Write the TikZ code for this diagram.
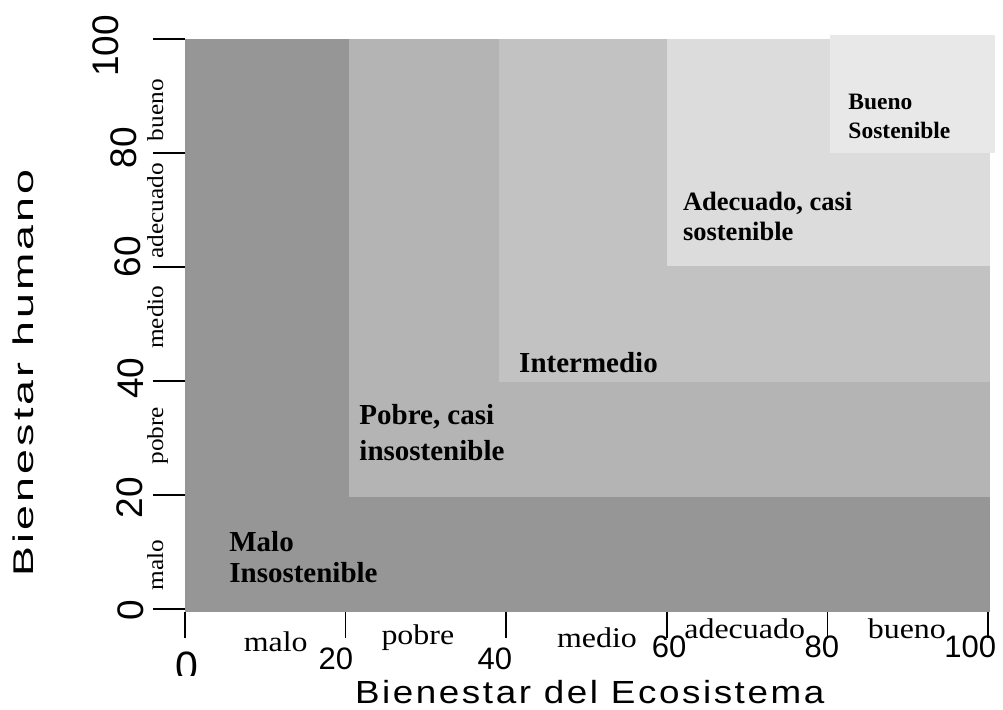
\documentclass[tikz,border=0pt]{standalone}
\usepackage{fontspec}
\setmainfont{Liberation Serif}
\setsansfont{Liberation Sans}
\newfontfamily\titlefont[LetterSpace=7]{Liberation Sans}
\newcommand\widen[2]{\scalebox{#1}[1]{#2}}

\definecolor{malogray}{RGB}{150,150,150}
\definecolor{pobregray}{RGB}{180,180,180}
\definecolor{medgray}{RGB}{194,194,194}
\definecolor{adegray}{RGB}{220,220,220}
\definecolor{buenogray}{RGB}{232,232,232}

\begin{document}
\begin{tikzpicture}[x=8.03pt,y=5.7pt,
    region/.style={font=\bfseries\fontsize{29}{31}\selectfont, align=left, anchor=base west, inner sep=0},
    ynum/.style={font=\sffamily\fontsize{37}{37}\selectfont, rotate=90, anchor=base, inner sep=0},
    xnum/.style={font=\sffamily\fontsize{31}{31}\selectfont, anchor=base, inner sep=0},
    ycat/.style={font=\fontsize{23}{23}\selectfont, rotate=90, anchor=base, inner sep=0},
    xcat/.style={font=\fontsize{28.5}{28.5}\selectfont, anchor=base, inner sep=0},
    tick/.style={line width=1.6pt}]
        \useasboundingbox (-23.04,-17.72) rectangle (101.87,106.84);
        % nested zones
        \fill[malogray] (0,-0.5) rectangle (100.25,100);
        \fill[pobregray] (20.4,19.65) rectangle (100.25,100);
        \fill[medgray] (39.1,39.8) rectangle (100.25,100);
        \fill[adegray] (60,60.2) rectangle (100.25,100);
        \fill[buenogray] (80.3,80) rectangle (100.9,100.7);
        \node (malo) at (5.5,4.56) [region] {Malo\\Insostenible};
        \node (pobre) at (21.7,26) [region] {Pobre, casi\\[5pt]insostenible};
        \node (inter) at (41.6,41.4) [region] {Intermedio};
        \node (adec) at (62,64.7) [region, font=\bfseries\fontsize{26.5}{30}\selectfont] {Adecuado, casi\\sostenible};
        \node (bueno) at (82.6,82.6) [region, font=\bfseries\fontsize{23.5}{29}\selectfont] {Bueno\\Sostenible};
        % ticks
        \foreach \v in {0,20,...,100} {
            \draw[tick] (-4,\v) -- (0,\v);
            \draw[tick] (\v,-0.5) -- (\v,-5.1);
        }
        % y axis labels
        \node (y100) at (-8.3,98.8) [ynum] {100};
        \node (y80) at (-6,80.9) [ynum] {80};
        \node (y60) at (-5.6,61.8) [ynum] {60};
        \node (y40) at (-5.2,40.5) [ynum] {40};
        \node (y20) at (-5.35,19.5) [ynum] {20};
        \node (y0) at (-5.2,-0.2) [ynum] {0};
        \node (ybueno) at (-2.74,87.5) [ycat] {\widen{1.1}{bueno}};
        \node (yadec) at (-2.74,69.8) [ycat] {\widen{1.1}{adecuado}};
        \node (ymedio) at (-2.74,51.2) [ycat] {\widen{1.1}{medio}};
        \node (ypobre) at (-2.74,30.4) [ycat] {\widen{1.1}{pobre}};
        \node (ymalo) at (-2.74,7.7) [ycat] {\widen{1.1}{malo}};
        % x axis labels
        \begin{scope}
            \clip (-5,-11.6) rectangle (5,-5);
            \node (x0) at (0.2,-12.6) [xnum, font=\sffamily\fontsize{41}{41}\selectfont] {0};
        \end{scope}
        \node (x20) at (18.8,-10.7) [xnum] {20};
        \node (x40) at (38.6,-10.7) [xnum] {40};
        \node (x60) at (60.3,-8.6) [xnum] {60};
        \node (x80) at (79.3,-8.6) [xnum] {80};
        \node (x100) at (97.8,-8.6) [xnum] {100};
        \node (xmalo) at (11.3,-7.4) [xcat] {\widen{1.12}{malo}};
        \node (xpobre) at (29,-6.3) [xcat] {\widen{1.12}{pobre}};
        \node (xmedio) at (51.3,-6.7) [xcat] {\widen{1.12}{medio}};
        \node (xadec) at (69.7,-5.1) [xcat] {\widen{1.12}{adecuado}};
        \node (xbueno) at (89.9,-5.1) [xcat] {\widen{1.12}{bueno}};
        % titles
        \node (xtitle) at (50.4,-16.5) [anchor=base, inner sep=0, font=\titlefont\fontsize{32}{32}\selectfont] {\widen{1.15}{Bienestar del Ecosistema}};
        \node (ytitle) at (-18.9,41.4) [anchor=base, inner sep=0, rotate=90, font=\titlefont\fontsize{28.5}{28.5}\selectfont] {\widen{1.57}{Bienestar humano}};
    \end{tikzpicture}
\end{document}
